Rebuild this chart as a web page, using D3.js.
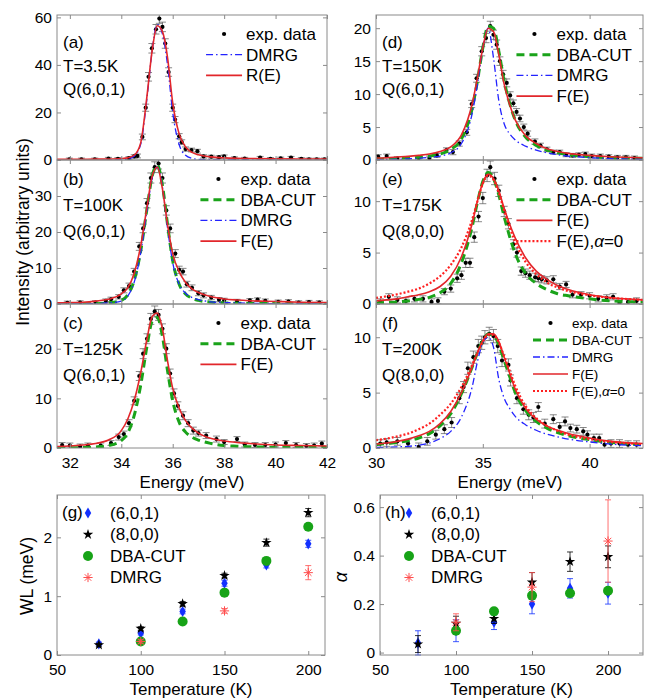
<!DOCTYPE html>
<html lang="en">
<head>
<meta charset="UTF-8">
<title>Line shapes vs temperature</title>
<script src="https://d3js.org/d3.v7.min.js"></script>
<style>
  body { margin: 0; background: #fff; }
  svg { font-family: "Liberation Sans", Arial, Helvetica, sans-serif; }
</style>
</head>
<body>
<svg id="fig" width="645" height="698"></svg>
<script>
// ---------- data ----------
// energy grids on which the model curves are sampled
const gridL = [31.5,32,32.5,33,33.5,34,34.25,34.5,34.75,35,35.2,35.4,35.6,35.8,36,36.25,36.5,36.75,37,37.5,38,38.5,39,40,41,42];
const gridR = [30,30.5,31,31.5,32,32.5,33,33.5,34,34.5,34.75,35,35.25,35.5,35.75,36,36.25,36.5,37,37.5,38,38.5,39,40,41,42.5];

// (a) T=3.5K
const fitA  = [0.3,0.3,0.3,0.35,0.4,0.6,0.9,2.0,7,27,46,56.5,54,43,24,11,5.5,3.2,2.2,1.3,0.9,0.7,0.6,0.5,0.4,0.4];
const dmrgA = [0,0,0,0,0.05,0.2,0.5,1.6,6.5,26,46,57,53,40,20,6.5,2.0,0.7,0.3,0.1,0.05,0,0,0,0,0];
// (b) T=100K
const fitB  = [0.3,0.4,0.5,0.8,1.3,2.8,4.5,8.5,16,27,35.5,38,32,22,14,9,6,4.2,3.2,2.0,1.4,1.1,0.9,0.7,0.5,0.4];
const dbaB  = [0,0,0.05,0.1,0.3,1.0,2.5,6.5,14.5,26.5,35.5,38.5,33,22,12,5.5,2.8,1.6,1.0,0.5,0.3,0.2,0.15,0.1,0.05,0];
const dmrgB = [0,0,0.05,0.1,0.3,0.8,2.2,6,14,26,35,38,32.5,21,11.5,5.5,3,1.8,1.2,0.6,0.4,0.3,0.2,0.1,0.05,0];
// (c) T=125K
const fitC  = [0.3,0.4,0.6,0.9,1.6,3.5,5.8,9.5,15,22,26.5,27.2,24,17.5,12,8,5.5,4.0,3.0,1.9,1.4,1.1,0.9,0.6,0.5,0.4];
const dbaC  = [0.05,0.05,0.1,0.2,0.5,1.5,3,6.5,12.5,20.5,25.5,26.3,22.5,15.5,9.5,5.2,3.2,2.2,1.6,0.9,0.5,0.35,0.25,0.15,0.1,0.1];
// (d) T=150K
const fitD  = [0.3,0.35,0.45,0.55,0.7,0.9,1.3,2.0,3.8,8.5,12.5,17,20,19.5,16,11.5,8.5,6.2,3.7,2.5,1.7,1.3,1.0,0.7,0.5,0.35];
const dbaD  = [0.1,0.15,0.2,0.3,0.4,0.6,0.9,1.6,3.2,7.8,12,17,20.3,20,16.5,12,8.7,6.2,3.5,2.2,1.5,1.1,0.8,0.5,0.35,0.25];
const dmrgD = [0.05,0.07,0.1,0.17,0.25,0.4,0.6,1.1,2.5,7,11.5,17,20,15.5,9,5.5,4.0,3.1,2.1,1.5,1.1,0.8,0.6,0.35,0.2,0.1];
// (e) T=175K
const fitE  = [0.3,0.4,0.5,0.7,0.9,1.2,1.7,2.7,4.6,7.8,10,11.8,12.6,12.2,11,9.3,7.8,6.5,4.5,3.2,2.4,1.8,1.4,0.9,0.6,0.4];
const flatE = [0.6,0.75,0.95,1.2,1.5,2.0,2.7,3.8,5.5,8.2,10,11.7,12.5,12.1,10.8,9.1,7.5,6.1,4.1,2.9,2.1,1.6,1.25,0.85,0.6,0.4];
const dbaE  = [0.1,0.15,0.2,0.3,0.45,0.65,1.1,2.0,4.0,7.5,9.9,11.9,12.8,12.2,10.6,8.5,6.6,5.0,3.0,2.0,1.4,1.0,0.8,0.5,0.3,0.2];
// (f) T=200K
const fitF  = [0.35,0.45,0.6,0.8,1.1,1.5,2.2,3.3,5.0,7.3,8.6,9.7,10.3,10.3,9.6,8.2,6.8,5.4,3.6,2.6,2.0,1.6,1.3,0.9,0.6,0.4];
const flatF = [0.7,0.85,1.05,1.3,1.7,2.2,3.0,4.0,5.5,7.5,8.6,9.6,10.2,10.2,9.5,8.3,7.0,5.7,3.8,2.7,2.0,1.55,1.2,0.8,0.55,0.35];
const dbaF  = [0.3,0.4,0.5,0.65,0.9,1.3,2.0,3.1,4.9,7.3,8.6,9.7,10.3,10.2,9.3,7.9,6.5,5.1,3.4,2.4,1.8,1.4,1.1,0.75,0.5,0.3];
const dmrgF = [0.05,0.07,0.1,0.15,0.25,0.45,0.85,1.5,2.8,5.5,7.8,9.5,10.0,9.1,6.2,4.5,3.6,2.9,2.1,1.6,1.25,1.0,0.8,0.55,0.35,0.2];

// experimental points: [energy, intensity, error]
const expA = [[31.98,0.3,0.5],[32.45,0.3,0.5],[32.97,0.3,0.5],[33.5,0.6,0.5],[33.87,0.5,0.5],[34.3,0.8,0.6],[34.5,1.5,0.7],[34.63,1.7,0.8],[34.82,9.7,1.2],[34.95,22,1.5],[35.06,35,1.8],[35.19,47,2],[35.35,55,2],[35.48,59.5,2],[35.6,56,2],[35.71,49,2],[35.84,37,1.8],[36.0,22,1.5],[36.09,17,1.3],[36.25,10,1.1],[36.35,7.5,1],[36.5,4.6,0.9],[36.73,4.2,0.8],[36.96,3.7,0.8],[37.2,1.5,0.7],[37.5,1.4,0.6],[37.8,1.2,0.6],[38.0,1.5,0.6],[38.4,0.8,0.5],[38.8,0.6,0.5],[39.4,1.0,0.5],[39.8,0.5,0.5],[40.2,0.7,0.5],[40.6,1.0,0.5],[41.0,0.5,0.5],[41.3,0.3,0.5],[41.6,0.3,0.5],[41.9,0.3,0.5]];
const expB = [[31.9,0.3,0.5],[32.4,0.4,0.5],[33.0,0.4,0.5],[33.4,0.9,0.5],[33.6,1.3,0.6],[33.9,2.0,0.6],[34.1,3.8,0.7],[34.3,5.0,0.8],[34.5,9.0,0.9],[34.7,16,1.1],[34.85,21,1.2],[35.0,28,1.3],[35.15,35,1.4],[35.3,38,1.5],[35.45,39,1.5],[35.6,35,1.4],[35.75,26,1.3],[35.9,21,1.2],[36.1,14,1.1],[36.25,9.5,1.0],[36.4,9.0,0.9],[36.55,5.5,0.8],[36.75,4.5,0.8],[37.0,3.0,0.7],[37.2,2.4,0.7],[37.5,1.8,0.6],[37.8,1.2,0.6],[38.0,1.0,0.6],[38.5,0.8,0.5],[39.0,1.0,0.5],[39.3,1.2,0.5],[39.6,0.9,0.5],[40.1,0.6,0.5],[40.5,0.7,0.5],[40.9,0.4,0.5],[41.3,0.5,0.5],[41.7,0.4,0.5]];
const expC = [[31.7,0.6,0.5],[32.0,0.5,0.5],[32.4,0.3,0.5],[32.7,0.5,0.5],[33.2,0.5,0.5],[33.6,1.0,0.5],[33.9,2.2,0.6],[34.1,2.8,0.6],[34.3,5.0,0.7],[34.5,9.5,0.8],[34.7,14.5,0.9],[34.85,19,1.0],[35.0,22,1.0],[35.15,26,1.1],[35.3,27.5,1.1],[35.45,26.8,1.1],[35.6,24,1.0],[35.75,20,1.0],[35.9,15,0.9],[36.05,11,0.9],[36.2,8.5,0.8],[36.4,6.5,0.8],[36.6,5.0,0.7],[36.8,3.5,0.7],[37.0,3.0,0.6],[37.3,2.5,0.6],[37.7,1.8,0.6],[38.0,1.2,0.5],[38.5,1.8,0.5],[38.8,0.7,0.5],[39.2,0.6,0.5],[39.6,0.6,0.5],[40.0,0.7,0.5],[40.4,1.0,0.5],[40.8,0.6,0.5],[41.2,0.4,0.5],[41.5,0.5,0.5],[41.8,0.9,0.5]];
const expD = [[30.1,0.5,0.3],[30.5,0.6,0.3],[31.0,0.2,0.3],[31.5,0.2,0.3],[32.0,0.3,0.3],[32.5,0.3,0.3],[32.85,0.7,0.3],[33.3,1.5,0.35],[33.6,1.2,0.4],[33.9,2.5,0.4],[34.25,4.2,0.45],[34.48,8.5,0.55],[34.71,12.4,0.6],[34.95,16.5,0.7],[35.15,18.5,0.7],[35.35,20.3,0.75],[35.5,19,0.7],[35.65,17.5,0.7],[35.8,15,0.65],[35.95,13,0.6],[36.12,11.7,0.6],[36.28,9.8,0.55],[36.43,8.6,0.5],[36.58,7.3,0.5],[36.74,6.3,0.5],[36.92,5.0,0.45],[37.1,4.0,0.4],[37.44,2.8,0.4],[37.7,2.2,0.35],[38.0,1.6,0.35],[38.3,1.2,0.3],[38.6,1.2,0.3],[38.9,0.8,0.3],[39.2,0.7,0.3],[39.5,0.8,0.3],[39.8,0.9,0.3],[40.1,0.6,0.3],[40.5,0.6,0.3],[40.9,0.5,0.3],[41.3,0.4,0.3],[41.7,0.4,0.3],[42.1,0.3,0.3]];
const expE = [[30.2,0.2,0.3],[30.6,0.7,0.3],[31.0,0.4,0.3],[31.4,0.3,0.3],[31.8,0.5,0.3],[32.2,0.5,0.3],[32.6,0.2,0.3],[32.9,0.3,0.3],[33.2,1.2,0.3],[33.5,1.5,0.35],[33.8,2.5,0.4],[34.0,2.8,0.4],[34.2,4.0,0.45],[34.4,4.0,0.45],[34.6,6.5,0.5],[34.8,8.5,0.5],[35.0,10.3,0.55],[35.2,12.5,0.6],[35.35,13.3,0.6],[35.55,12.2,0.6],[35.75,11.0,0.55],[36.0,9.0,0.5],[36.2,7.8,0.5],[36.43,5.8,0.45],[36.6,5.0,0.45],[36.8,3.2,0.4],[37.0,3.0,0.4],[37.2,2.8,0.4],[37.45,2.6,0.4],[37.6,2.5,0.35],[37.76,2.4,0.35],[38.0,2.3,0.35],[38.3,2.4,0.35],[38.6,1.7,0.3],[38.9,1.9,0.3],[39.2,0.9,0.3],[39.6,0.9,0.3],[40.0,0.8,0.3],[40.4,0.5,0.3],[40.8,0.6,0.3],[41.1,0.7,0.3],[41.4,0.1,0.3],[41.8,0.2,0.3],[42.2,0.3,0.3]];
const expF = [[30.2,0.4,0.35],[30.5,0.5,0.35],[31.0,0.6,0.35],[31.5,0.4,0.35],[32.0,0.1,0.35],[32.4,0.6,0.35],[32.8,1.2,0.4],[33.2,1.7,0.4],[33.54,2.3,0.45],[33.9,4.5,0.5],[34.1,5.5,0.5],[34.3,7.2,0.55],[34.56,8.2,0.55],[34.79,9.2,0.6],[34.95,9.5,0.6],[35.1,10.0,0.6],[35.3,10.3,0.6],[35.5,10.1,0.6],[35.7,9.2,0.6],[35.9,7.9,0.55],[36.2,7.5,0.55],[36.3,6.1,0.5],[36.6,4.5,0.5],[36.9,3.5,0.45],[37.15,3.0,0.45],[37.37,2.75,0.45],[37.6,3.7,0.4],[37.9,2.2,0.4],[38.3,2.6,0.4],[38.6,1.9,0.4],[38.85,2.4,0.4],[39.1,1.8,0.35],[39.4,1.7,0.35],[39.7,1.5,0.35],[39.9,1.2,0.35],[40.2,0.9,0.35],[40.45,0.9,0.35],[40.7,0.3,0.35],[41.0,0.4,0.35],[41.4,0.4,0.35],[41.8,0.3,0.35],[42.2,0.3,0.35]];

// (g) line width WL and (h) asymmetry alpha versus temperature
const tempAll  = [75, 100, 125, 150, 175, 200];
const tempDba  = [100, 125, 150, 175, 200];
const tempDmrg = [100, 150, 200];
const wl601 = [0.19, 0.37, 0.74, 1.22, 1.53, 1.89],  wl601Err = [0.03, 0.03, 0.04, 0.05, 0.05, 0.06];
const wl800 = [0.17, 0.45, 0.87, 1.35, 1.91, 2.42],  wl800Err = [0.03, 0.03, 0.04, 0.04, 0.06, 0.07];
const wlDba = [0.23, 0.57, 1.06, 1.6, 2.18];
const wlDmrg = [0.23, 0.75, 1.4],                    wlDmrgErr = [0.03, 0.04, 0.12];
const al601 = [0.04, 0.09, 0.125, 0.2, 0.265, 0.245], al601Err = [0.05, 0.045, 0.03, 0.04, 0.04, 0.045];
const al800 = [0.035, 0.12, 0.14, 0.29, 0.375, 0.395], al800Err = [0.035, 0.03, 0.02, 0.04, 0.04, 0.045];
const alDba = [0.09, 0.17, 0.235, 0.245, 0.255];
const alDmrg = [0.125, 0.27, 0.46],                  alDmrgErr = [0.035, 0.06, 0.17];

const ticksL = [32, 34, 36, 38, 40, 42];
const ticksR = [30, 35, 40];
const ticksT = [50, 100, 150, 200];

// ---------- layout ----------
const svg = d3.select("#fig");
const frameCol = "#8a8a8a";
const colL = [57, 327], colR = [376, 643];
const rowY = [[15, 160], [160, 304], [304, 448]];
const numFmt = d3.format("~g");

const lineStyle = {
  "DBA-CUT":  {stroke: "#1aa31a", width: 3,   dash: "8,5"},
  "DMRG":     {stroke: "#2323ff", width: 1.3, dash: "7,3,1.5,3"},
  "F(E)":     {stroke: "#e2262b", width: 1.6, dash: null},
  "R(E)":     {stroke: "#e2262b", width: 1.6, dash: null},
  "F(E),α=0": {stroke: "#ff2020", width: 2.2, dash: "2,2"}
};

const panels = [
  {tag: "(a)", T: "T=3.5K", Q: "Q(6,0,1)", col: 0, row: 0, ymax: 61, yticks: [0,20,40,60], exp: expA,
   series: [["DMRG", dmrgA], ["R(E)", fitA]]},
  {tag: "(b)", T: "T=100K", Q: "Q(6,0,1)", col: 0, row: 1, ymax: 40, yticks: [0,10,20,30], exp: expB,
   series: [["DBA-CUT", dbaB], ["DMRG", dmrgB], ["F(E)", fitB]]},
  {tag: "(c)", T: "T=125K", Q: "Q(6,0,1)", col: 0, row: 2, ymax: 29, yticks: [0,10,20], exp: expC,
   series: [["DBA-CUT", dbaC], ["F(E)", fitC]]},
  {tag: "(d)", T: "T=150K", Q: "Q(6,0,1)", col: 1, row: 0, ymax: 22, yticks: [0,5,10,15,20], exp: expD,
   series: [["DBA-CUT", dbaD], ["DMRG", dmrgD], ["F(E)", fitD]]},
  {tag: "(e)", T: "T=175K", Q: "Q(8,0,0)", col: 1, row: 1, ymax: 14, yticks: [0,5,10], exp: expE,
   series: [["DBA-CUT", dbaE], ["F(E)", fitE], ["F(E),α=0", flatE]]},
  {tag: "(f)", T: "T=200K", Q: "Q(8,0,0)", col: 1, row: 2, ymax: 13, yticks: [0,5,10], exp: expF, small: true,
   series: [["DBA-CUT", dbaF], ["DMRG", dmrgF], ["F(E)", fitF], ["F(E),α=0", flatF]]}
];

function labelText(sel, label) {
  if (label.includes("α")) {
    const [a, b] = label.split("α");
    sel.append("tspan").text(a);
    sel.append("tspan").attr("font-style", "italic").text("α");
    sel.append("tspan").text(b);
  } else sel.text(label);
}

function frameAxes(g, x, y, xt, yt, showX) {
  const [x0, x1] = x.range(), [y1, y0] = y.range();
  g.append("g").attr("transform", `translate(${x0},0)`)
    .call(d3.axisLeft(y).tickValues(yt).tickSize(-4).tickPadding(5).tickFormat(numFmt));
  g.append("g").attr("transform", `translate(${x1},0)`)
    .call(d3.axisRight(y).tickValues(yt).tickSize(-4).tickFormat(""));
  g.append("g").attr("transform", `translate(0,${y1})`)
    .call(d3.axisBottom(x).tickValues(xt).tickSize(-4).tickPadding(9).tickFormat(showX ? numFmt : ""));
  g.append("g").attr("transform", `translate(0,${y0})`)
    .call(d3.axisTop(x).tickValues(xt).tickSize(-4).tickFormat(""));
  g.selectAll(".domain").remove();
  g.selectAll(".tick line").attr("stroke", frameCol);
  g.selectAll(".tick text").attr("font-size", 15.5).attr("fill", "#000")
    .attr("font-family", '"Liberation Sans", Arial, sans-serif');
  g.append("rect").attr("x", x0).attr("y", y0).attr("width", x1 - x0).attr("height", y1 - y0)
    .attr("fill", "none").attr("stroke", frameCol).attr("stroke-width", 1);
}

function spectrum(p, i) {
  const [x0, x1] = p.col ? colR : colL;
  const [y0, y1] = rowY[p.row];
  const grid = p.col ? gridR : gridL;
  const x = d3.scaleLinear().domain(p.col ? [30, 42.5] : [31.5, 42]).range([x0, x1]);
  const y = d3.scaleLinear().domain([0, p.ymax]).range([y1, y0]);
  const g = svg.append("g");

  svg.append("clipPath").attr("id", "clip" + i).append("rect")
    .attr("x", x0).attr("y", y0).attr("width", x1 - x0).attr("height", y1 - y0);
  const plot = g.append("g").attr("clip-path", `url(#clip${i})`);

  plot.append("g").selectAll("path").data(p.exp).join("path")
    .attr("d", d => {
      const cx = x(d[0]), a = y(d[1] - d[2]), b = y(d[1] + d[2]);
      return `M${cx},${a}V${b}M${cx - 3.5},${a}h7M${cx - 3.5},${b}h7`;
    })
    .attr("stroke", "#555").attr("stroke-width", 0.7).attr("fill", "none");
  plot.append("g").selectAll("circle").data(p.exp).join("circle")
    .attr("cx", d => x(d[0])).attr("cy", d => y(d[1])).attr("r", 2.1).attr("fill", "#000");

  const line = d3.line().x((d, j) => x(grid[j])).y(d => y(d)).curve(d3.curveMonotoneX);
  p.series.forEach(([name, vals]) => {
    const s = lineStyle[name];
    plot.append("path").datum(vals).attr("d", line).attr("fill", "none")
      .attr("stroke", s.stroke).attr("stroke-width", s.width)
      .attr("stroke-dasharray", s.dash);
  });

  frameAxes(g, x, y, p.col ? ticksR : ticksL, p.yticks, p.row === 2);

  // panel annotation
  const tTop = y0 + (p.row === 0 ? 33 : 25), tStep = p.row === 0 ? 23.5 : 26;
  [p.tag, p.T, p.Q].forEach((t, k) => {
    g.append("text").attr("x", x0 + 6).attr("y", tTop + k * tStep)
      .attr("font-size", 17).text(t);
  });

  // legend
  const fs = p.small ? 13.5 : 17, step = p.small ? 17 : 20.7;
  const names = ["exp. data"].concat(p.series.map(s => s[0]));
  const lg = g.append("g").attr("font-size", fs);
  const texts = names.map((n, k) => {
    const t = lg.append("text").attr("y", y0 + 19 + k * step).attr("dy", "0.35em");
    labelText(t, n);
    return t;
  });
  const w = d3.max(texts, t => t.node().getComputedTextLength());
  const tx = x1 - 11 - w;
  texts.forEach(t => t.attr("x", tx));
  names.forEach((n, k) => {
    const cy = y0 + 19 + k * step;
    const xa = tx - (p.small ? 39 : 40), xb = tx - 4;
    if (k === 0) {
      lg.append("circle").attr("cx", (xa + xb) / 2).attr("cy", cy).attr("r", 2.1).attr("fill", "#000");
    } else {
      const s = lineStyle[n];
      lg.append("line").attr("x1", xa).attr("x2", xb).attr("y1", cy).attr("y2", cy)
        .attr("stroke", s.stroke).attr("stroke-width", s.width).attr("stroke-dasharray", s.dash);
    }
  });
}

panels.forEach(spectrum);

// axis titles of the spectra
svg.append("text").attr("transform", "translate(29,232) rotate(-90)")
  .attr("text-anchor", "middle").attr("font-size", 17.5).text("Intensity (arbitrary units)");
[[192, "Energy (meV)"], [510, "Energy (meV)"]].forEach(([cx, t]) => {
  svg.append("text").attr("x", cx).attr("y", 488).attr("text-anchor", "middle")
    .attr("font-size", 17).text(t);
});

// ---------- markers ----------
const markerCol = {diamond: "#1230ff", star: "#000", circle: "#17a317", asterisk: "#ff4d4d"};
function marker(g, kind, cx, cy) {
  if (kind === "diamond" || kind === "star") {
    g.append("path").attr("d", d3.symbol(kind === "star" ? d3.symbolStar : d3.symbolDiamond, kind === "star" ? 34 : 36)())
      .attr("transform", `translate(${cx},${cy})`).attr("fill", markerCol[kind]);
  } else if (kind === "circle") {
    g.append("circle").attr("cx", cx).attr("cy", cy).attr("r", 5).attr("fill", markerCol.circle);
  } else {
    const r = 4.6, q = r * 0.707;
    g.append("path").attr("d", `M${cx - r},${cy}h${2 * r}M${cx},${cy - r}v${2 * r}M${cx - q},${cy - q}l${2 * q},${2 * q}M${cx - q},${cy + q}l${2 * q},${-2 * q}`)
      .attr("stroke", markerCol.asterisk).attr("stroke-width", 1).attr("fill", "none");
  }
}

function scatterPanel(cfg) {
  const x = d3.scaleLinear().domain(cfg.xdom).range([cfg.x0, cfg.x1]);
  const y = d3.scaleLinear().domain(cfg.ydom).range([655, 495]);
  const g = svg.append("g");
  cfg.sets.forEach(s => {
    s.t.forEach((tv, k) => {
      if (s.err) {
        const cx = x(tv), a = y(s.v[k] - s.err[k]), b = y(s.v[k] + s.err[k]);
        g.append("path").attr("d", `M${cx},${a}V${b}M${cx - 3},${a}h6M${cx - 3},${b}h6`)
          .attr("stroke", markerCol[s.kind]).attr("stroke-width", 0.8).attr("fill", "none");
      }
      marker(g, s.kind, x(tv), y(s.v[k]));
    });
  });
  frameAxes(g, x, y, ticksT, cfg.yticks, true);
  g.append("text").attr("x", cfg.x0 + 5).attr("y", 518).attr("font-size", 17).text(cfg.tag);
  cfg.sets.forEach((s, k) => {
    const cy = 513 + k * 21.5;
    marker(g, s.kind, cfg.mx, cy);
    g.append("text").attr("x", cfg.mx + 22).attr("y", cy).attr("dy", "0.35em")
      .attr("font-size", 17).text(s.name);
  });
  g.append("text").attr("x", (cfg.x0 + cfg.x1) / 2).attr("y", 695).attr("text-anchor", "middle")
    .attr("font-size", 17).text("Temperature (K)");
  return g;
}

const gPanel = scatterPanel({
  tag: "(g)", x0: 57, x1: 325, xdom: [50, 210], ydom: [0, 2.72], yticks: [0, 1, 2], mx: 88,
  sets: [
    {name: "(6,0,1)", kind: "diamond", t: tempAll, v: wl601, err: wl601Err},
    {name: "(8,0,0)", kind: "star", t: tempAll, v: wl800, err: wl800Err},
    {name: "DBA-CUT", kind: "circle", t: tempDba, v: wlDba},
    {name: "DMRG", kind: "asterisk", t: tempDmrg, v: wlDmrg, err: wlDmrgErr}
  ]
});
gPanel.append("text").attr("transform", "translate(33,576) rotate(-90)").attr("text-anchor", "middle")
  .attr("font-size", 17.5).text("WL (meV)");

const hPanel = scatterPanel({
  tag: "(h)", x0: 380, x1: 643, xdom: [50, 223], ydom: [-0.01, 0.65], yticks: [0, 0.2, 0.4, 0.6], mx: 409,
  sets: [
    {name: "(6,0,1)", kind: "diamond", t: tempAll, v: al601, err: al601Err},
    {name: "(8,0,0)", kind: "star", t: tempAll, v: al800, err: al800Err},
    {name: "DBA-CUT", kind: "circle", t: tempDba, v: alDba},
    {name: "DMRG", kind: "asterisk", t: tempDmrg, v: alDmrg, err: alDmrgErr}
  ]
});
hPanel.append("text").attr("transform", "translate(347,577) rotate(-90)").attr("text-anchor", "middle")
  .attr("font-size", 18).attr("font-style", "italic").text("α");
</script>
</body>
</html>
